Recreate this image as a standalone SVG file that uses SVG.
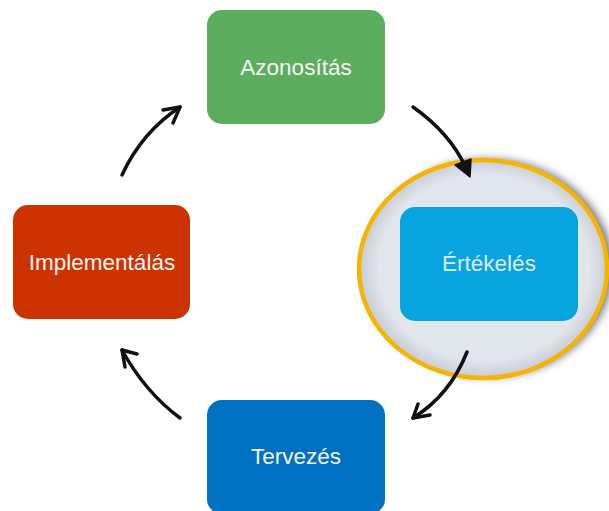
<svg xmlns="http://www.w3.org/2000/svg" width="609" height="511" viewBox="0 0 609 511">
<defs>
<filter id="sh" x="-20%" y="-20%" width="140%" height="140%">
<feGaussianBlur in="SourceAlpha" stdDeviation="4"/>
<feOffset dx="5" dy="0" result="b"/>
<feFlood flood-color="#50555c" flood-opacity="0.8"/>
<feComposite in2="b" operator="in"/>
<feMerge><feMergeNode/><feMergeNode in="SourceGraphic"/></feMerge>
</filter>
<radialGradient id="gfill" cx="0.5" cy="0.5" r="0.5">
<stop offset="0.85" stop-color="#e1e5ec"/>
<stop offset="1" stop-color="#c9cdd3"/>
</radialGradient>
</defs>
<style>
.box{stroke:none}
.lbl{font-family:"Liberation Sans",Arial,sans-serif;font-size:22.5px;fill:#f4f4f4;text-anchor:middle}
.arr{fill:none;stroke:#111;stroke-width:3.5;stroke-linecap:round;stroke-linejoin:round}
</style>
<rect width="609" height="511" fill="#ffffff"/>
<g id="highlight">
<ellipse cx="484" cy="268" rx="124" ry="109" fill="url(#gfill)" filter="url(#sh)"/>
<ellipse cx="483" cy="269" rx="124" ry="109" fill="none" stroke="#f5b400" stroke-width="4.5"/>
</g>
<g id="azonositas">
<rect class="box" x="207" y="10" width="178" height="114" rx="15" fill="#5cad5e"/>
<text class="lbl" x="296" y="75">Azonosítás</text>
</g>
<g id="ertekeles">
<rect class="box" x="400" y="207" width="178" height="114" rx="15" fill="#08a4e0"/>
<text class="lbl" x="489" y="271" style="fill:#dcecf4">Értékelés</text>
</g>
<g id="tervezes">
<rect class="box" x="207" y="400" width="178" height="114" rx="15" fill="#0070c0"/>
<text class="lbl" x="296" y="464">Tervezés</text>
</g>
<g id="implementalas">
<rect class="box" x="13" y="205" width="177" height="114" rx="15" fill="#cc3300"/>
<text class="lbl" x="102" y="270">Implementálás</text>
</g>
<g id="connectors">
<path class="arr" d="M122,175 Q142,132 180,107"/>
<path class="arr" d="M163,110 L180,107 L173,123"/>
<path class="arr" d="M413,107 Q450,133 466,168"/>
<polygon points="455,165 471,159 470,177" fill="#111" stroke="#111" stroke-width="1.5" stroke-linejoin="round"/>
<path class="arr" d="M467,352 Q450,395 413,418"/>
<path class="arr" d="M418,404 L413,418 L430,415"/>
<path class="arr" d="M180,418 Q145,392 122,350"/>
<path class="arr" d="M125,367 L122,350 L137,354"/>
</g>
</svg>
